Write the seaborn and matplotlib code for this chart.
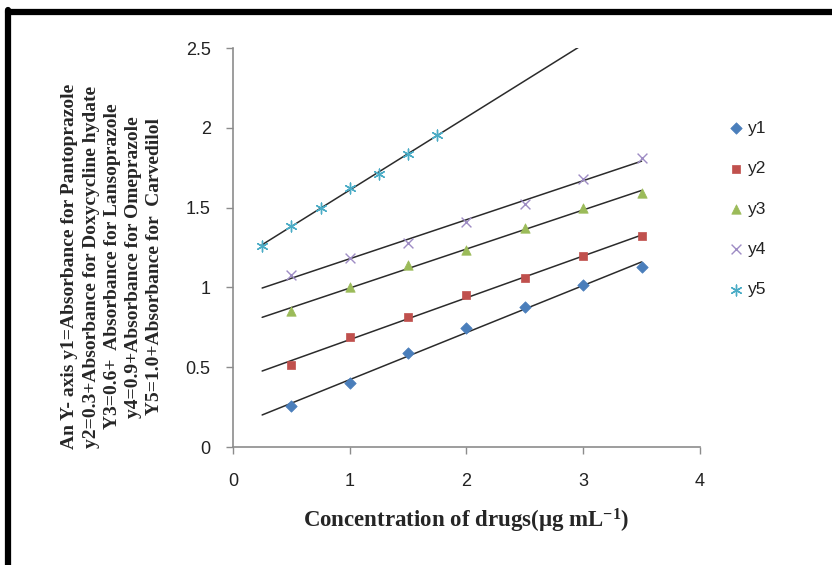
import numpy as np
import matplotlib
matplotlib.use("Agg")
import matplotlib.pyplot as plt
import seaborn as sns
from matplotlib.lines import Line2D

# data
conc = [0.5, 1.0, 1.5, 2.0, 2.5, 3.0, 3.5]
y1 = [0.26, 0.40, 0.59, 0.745, 0.88, 1.015, 1.13]
y2 = [0.515, 0.69, 0.815, 0.95, 1.06, 1.195, 1.32]
y3 = [0.855, 1.00, 1.14, 1.235, 1.37, 1.495, 1.59]
y4 = [1.08, 1.185, 1.28, 1.41, 1.525, 1.68, 1.81]
conc5 = [0.25, 0.5, 0.75, 1.0, 1.25, 1.5, 1.75]
y5 = [1.26, 1.385, 1.50, 1.625, 1.71, 1.835, 1.955]

series = [
    ("y1", conc, y1, "#4A7EBB", "D", 34),
    ("y2", conc, y2, "#C0504D", "s", 30),
    ("y3", conc, y3, "#9BBB59", "^", 46),
    ("y4", conc, y4, "#9E8CC4", "x", 50),
    ("y5", conc5, y5, "#4BACC6", (6, 2, 0), 60),
]

sns.set_style("white")
plt.rcParams["font.family"] = ["Liberation Sans", "DejaVu Sans"]
plt.rcParams["mathtext.fontset"] = "custom"
plt.rcParams["mathtext.rm"] = "Liberation Serif:bold"
plt.rcParams["mathtext.default"] = "rm"

fig = plt.figure(figsize=(8.32, 5.65), dpi=100)
ax = fig.add_axes([0.280, 0.2088, 0.5613, 0.7062])

# Excel style linear trendlines, forecast to 0.25 .. 3.5
xt = np.array([0.25, 3.5])
for name, xs, ys, col, mk, sz in series:
    k, b = np.polyfit(xs, ys, 1)
    ax.plot(xt, k * xt + b, color="#2b2b2b", lw=1.1, zorder=2)

for name, xs, ys, col, mk, sz in series:
    if mk in ("x",) or isinstance(mk, tuple):
        sns.scatterplot(x=xs, y=ys, ax=ax, marker=mk, color=col, s=sz,
                        linewidth=1.0, label=name, zorder=3)
    else:
        sns.scatterplot(x=xs, y=ys, ax=ax, marker=mk, color=col, s=sz,
                        edgecolor=col, linewidth=0.5, label=name, zorder=3)

ax.set_xlim(0, 4)
ax.set_ylim(0, 2.5)
ax.set_xticks([0, 1, 2, 3, 4])
ax.set_xticklabels(["0", "1", "2", "3", "4"])
ax.set_yticks([0, 0.5, 1, 1.5, 2, 2.5])
ax.set_yticklabels(["0", "0.5", "1", "1.5", "2", "2.5"])

for s in ["top", "right"]:
    ax.spines[s].set_visible(False)
for s in ["left", "bottom"]:
    ax.spines[s].set_color("#8c8c8c")
    ax.spines[s].set_linewidth(1.2)
ax.tick_params(axis="both", which="major", direction="out", length=5, width=1,
               color="#8c8c8c", labelsize=13, labelcolor="#222222")
ax.tick_params(axis="y", left=True, pad=11)
ax.tick_params(axis="x", bottom=True, pad=14)

ax.set_xlabel(r"Concentration of drugs(µg mL$^{-1}$)", fontsize=16.5,
              fontweight="bold", family="Liberation Serif", labelpad=12)

ylab = ("An Y- axis y1=Absorbance for Pantoprazole\n"
        "y2=0.3+Absorbance for Doxycycline hydate\n"
        "Y3=0.6+  Absorbance for Lansoprazole\n"
        "y4=0.9+Absorbance for Omeprazole\n"
        "Y5=1.0+Absorbance for  Carvedilol")
fig.text(0.135, 0.528, ylab, rotation=90, ha="center", va="center",
         multialignment="center", fontsize=14, fontweight="bold",
         family="Liberation Serif", linespacing=1.32)

leg = ax.legend(loc="upper left", bbox_to_anchor=(1.04, 0.835), frameon=False,
                fontsize=12.5, labelspacing=1.45, handletextpad=0.1,
                handlelength=1.2, borderaxespad=0)
for t in leg.get_texts():
    t.set_color("#222222")

# black frame at top and left of the picture
fig.add_artist(Line2D([0.0096, 1.0], [0.978, 0.978], transform=fig.transFigure,
                      color="black", lw=4.5))
fig.add_artist(Line2D([0.0096, 0.0096], [0.0, 0.982], transform=fig.transFigure,
                      color="black", lw=4.5))

fig.savefig("out.png", dpi=100)
